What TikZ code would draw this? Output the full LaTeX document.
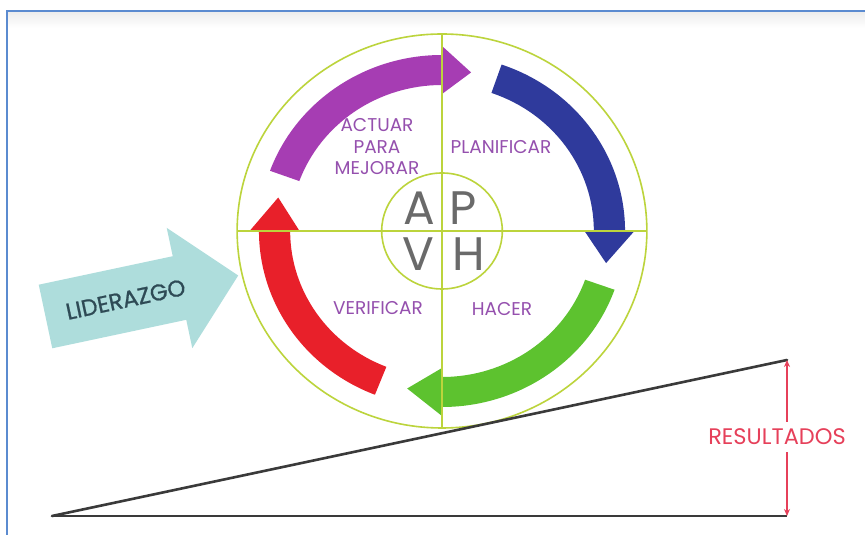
\documentclass[tikz,border=0pt]{standalone}
\usepackage{fontspec}
\setmainfont{Poppins}
\newfontfamily\lidfont{Poppins}[FakeBold=0.9]
\usetikzlibrary{arrows.meta}
\definecolor{frameblue}{HTML}{5B8BD0}
\definecolor{ringgreen}{HTML}{BCD43C}
\definecolor{cpurple}{HTML}{A63DB3}
\definecolor{cblue}{HTML}{2F3A9C}
\definecolor{cgreen}{HTML}{5DC22F}
\definecolor{cred}{HTML}{E8202A}
\definecolor{lblpurple}{HTML}{9550AE}
\definecolor{lettergray}{HTML}{6A6A6A}
\definecolor{liderteal}{HTML}{AEDDDC}
\definecolor{liddark}{HTML}{2E4A55}
\definecolor{resred}{HTML}{E6405A}
\definecolor{linegray}{HTML}{3A3A3A}
\newcommand{\pdcaarrow}[4]{%
  \fill[#1] (#2:176) arc[start angle=#2, end angle=#3, radius=176]
    -- (#3:185) -- (#4:161) -- (#3:137) -- (#3:146)
    arc[start angle=#3, end angle=#2, radius=146] -- cycle;}
\tikzset{
  ring/.style={ringgreen, line width=1.6},
  phase/.style={text=lblpurple, font=\fontsize{18.5}{21.5}\selectfont, align=center, inner sep=0},
  letter/.style={text=lettergray, font=\fontsize{47}{47}\selectfont, inner sep=0},
  baseline/.style={linegray, line width=2.6},
}
\begin{document}
\begin{tikzpicture}[x=1pt,y=1pt]
\useasboundingbox (0,0) rectangle (865,535);
\fill[white] (0,0) rectangle (865,535);
\shade[top color=black!7, bottom color=white] (8,507) rectangle (865,523);
\draw[frameblue, line width=2] (7,0) -- (7,524) -- (865,524);

% LIDERAZGO arrow
\begin{scope}[shift={(45.5,218.5)}, rotate=12]
  \fill[liderteal] (0,-32.5) -- (137,-32.5) -- (137,-61.5) -- (197,0)
    -- (137,61.5) -- (137,32.5) -- (0,32.5) -- cycle;
  \node[text=liddark, font=\lidfont\fontsize{23}{23}\selectfont, rotate=12, inner sep=0] (lid) at (82,0) {LIDERAZGO};
\end{scope}

% PDCA circle
\begin{scope}[shift={(442,304)}, xscale=1.04]
  \pdcaarrow{cpurple}{160}{90}{80}
  \pdcaarrow{cblue}{71}{0}{-11.5}
  \pdcaarrow{cgreen}{-19.5}{-90}{-102}
  \pdcaarrow{cred}{-111.5}{-180}{-192}
  \draw[ring] (0,0) circle[radius=197];
  \draw[ring] (0,0) circle[radius=58];
  \draw[ring] (0,197) -- (0,-197);
  \draw[ring] (-197,0) -- (197,0);
\end{scope}

\node[phase] (act) at (377,388) {ACTUAR\\PARA\\MEJORAR};
\node[phase] (plan) at (501,388) {PLANIFICAR};
\node[phase] (ver) at (378,227) {VERIFICAR};
\node[phase] (hac) at (502,226) {HACER};
\node[letter] (A) at (419,327) {A};
\node[letter] (P) at (463,327) {P};
\node[letter] (V) at (418,281) {V};
\node[letter] (H) at (469,281) {H};

% results wedge
\coordinate (O) at (52,19);
\coordinate (T) at (787,175);
\coordinate (B) at (787,19);
\draw[baseline, line cap=round] (O) -- (T);
\draw[baseline] (O) -- (B);
\node[text=resred, font=\fontsize{22.5}{22.5}\selectfont, fill=white, inner xsep=1, inner ysep=7] (res) at (777,98) {RESULTADOS};
\draw[resred, line width=1.8, -{Stealth[length=7pt,width=6pt]}] (res.north -| T) -- (T);
\draw[resred, line width=1.8, -{Stealth[length=7pt,width=6pt]}] (res.south -| B) -- (B);
\end{tikzpicture}
\end{document}
